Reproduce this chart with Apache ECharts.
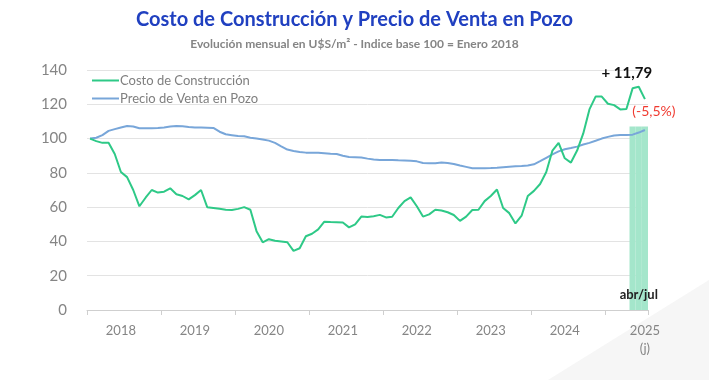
<!DOCTYPE html>
<html><head><meta charset="utf-8">
<script src="https://cdn.jsdelivr.net/npm/echarts@6/dist/echarts.min.js"></script>
<style>html,body{margin:0;padding:0;background:#fff}#c{width:709px;height:380px}</style>
</head><body><div id="c"></div>
<script>
const years = ['2018','2019','2020','2021','2022','2023','2024','2025'];
const monthsInYear = [12,12,12,12,12,12,12,7];
const yearLabels = ['2018','2019','2020','2021','2022','2023','2024','2025\n(j)'];
const costo = [
 100, 98.5, 97.5, 97.5, 91, 80.5, 77.5, 70, 60.5, 65.5, 70, 68.5,
 69, 71, 67.5, 66.5, 64.5, 67, 70, 60, 59.5, 59, 58.5, 58.3,
 59, 60, 58.5, 46, 39.5, 41.3, 40.4, 40, 39.5, 34.5, 36, 43,
 44.5, 47, 51.5, 51.3, 51.2, 51, 48.2, 50, 54.5, 54.3, 54.7, 55.5,
 54, 54.4, 59.5, 63.5, 65.7, 60.5, 54.5, 55.8, 58.5, 58, 57, 55.4,
 52, 54.5, 58.3, 58.5, 63.5, 66.5, 70.3, 59.5, 56.5, 50.5, 55, 66.5,
 69.5, 73.5, 80.5, 93, 97.5, 88.5, 86, 93, 103, 117, 124.5, 124.5,
 120.3, 119.5, 117, 117.3, 129.3, 130.2, 123
];
const precio = [
 100, 100.5, 102, 104.5, 105.5, 106.5, 107.3, 107, 106, 106, 106, 106.2,
 106.5, 107, 107.3, 107.2, 106.8, 106.5, 106.4, 106.3, 106.2, 104, 102.5, 102,
 101.5, 101.3, 100.5, 100, 99.5, 98.8, 97.5, 95.5, 93.6, 92.8, 92.2, 91.8,
 91.8, 91.8, 91.5, 91.2, 91, 90, 89.3, 89.1, 88.9, 88.3, 87.8, 87.5,
 87.5, 87.5, 87.3, 87.2, 87, 86.7, 85.7, 85.6, 85.6, 86, 85.8, 85.2,
 84.3, 83.5, 82.7, 82.7, 82.7, 82.8, 83, 83.3, 83.6, 83.8, 84, 84.3,
 85, 86.8, 88.8, 90.8, 92.5, 93.8, 94.5, 95.3, 96.5, 97.5, 98.7, 100,
 101, 101.8, 102.1, 102.1, 102.3, 103.5, 105
];
const bandMonths = ['2025-05','2025-06','2025-07'];
const bandTop = 107;
const bandLabel = 'abr/jul';
const peakNote = '+ 11,79';
const lastNote = '(-5,5%)';

const categories = [];
years.forEach((y, yi) => {
  for (let m = 1; m <= monthsInYear[yi]; m++) categories.push(y + '-' + String(m).padStart(2, '0'));
});
const bandData = categories.map(c => {
  const k = bandMonths.indexOf(c);
  if (k < 0) return null;
  if (k === 1) return {value: bandTop, label: {show: true, position: 'insideBottom', distance: 9, formatter: bandLabel, color: '#222', fontSize: 13, fontWeight: 'bold', fontFamily: 'Lato'}};
  return bandTop;
});
const nC = costo.length;

const chart = echarts.init(document.getElementById('c'), null, {renderer: 'canvas'});
chart.setOption({
  backgroundColor: '#ffffff',
  animation: false,
  title: {
    text: 'Costo de Construcción y Precio de Venta en Pozo',
    subtext: 'Evolución mensual en U$S/m² - Indice base 100 = Enero 2018',
    left: 'center', top: 5, itemGap: 8,
    textStyle: {fontFamily: 'Lato', fontSize: 20, fontWeight: 'bold', color: '#2040c0'},
    subtextStyle: {fontFamily: 'Lato', fontSize: 12, fontWeight: 'bold', color: '#858585'}
  },
  graphic: [{
    type: 'polygon', z: -10, silent: true,
    shape: {points: [[548, 380], [709, 280], [709, 380]]},
    style: {fill: '#f6f6f6'}
  }],
  legend: {
    orient: 'vertical', left: 87, top: 69, itemGap: 5, itemWidth: 27, itemHeight: 2, icon: 'rect',
    data: ['Costo de Construcción', 'Precio de Venta en Pozo'],
    textStyle: {fontFamily: 'Lato', fontSize: 13, color: '#7f7f7f', padding: [0, 0, 0, -4]}
  },
  grid: {left: 87, right: 61, top: 70, bottom: 70},
  xAxis: {
    type: 'category', data: categories, boundaryGap: true,
    axisLine: {lineStyle: {color: '#cfcfcf', width: 1}},
    axisTick: {show: true, length: 5, interval: (i) => i % 12 === 0, lineStyle: {color: '#cfcfcf'}},
    axisLabel: {
      interval: 0, margin: 12, color: '#858585', fontSize: 13, fontFamily: 'Lato', lineHeight: 18,
      formatter: (val) => {
        const y = val.slice(0, 4), m = val.slice(5);
        const yi = years.indexOf(y);
        if (yi === years.length - 1) return m === '07' ? yearLabels[yi] : '';
        return m === '06' ? yearLabels[yi] : '';
      }
    }
  },
  yAxis: {
    type: 'value', min: 0, max: 140, interval: 20,
    axisLine: {show: false}, axisTick: {show: false},
    axisLabel: {margin: 20, color: '#858585', fontSize: 15, fontFamily: 'Lato'},
    splitLine: {lineStyle: {color: '#e3e3e3', width: 1}}
  },
  series: [
    {name: 'band', type: 'bar', data: bandData, barWidth: '100%', barCategoryGap: '0%', z: 1,
     itemStyle: {color: '#a4e6cb'}, silent: true},
    {name: 'Costo de Construcción', type: 'line', data: costo, symbol: 'none', z: 3,
     lineStyle: {color: '#2ec987', width: 2}, itemStyle: {color: '#2ec987'},
     markPoint: {
       symbol: 'circle', symbolSize: 0, silent: true,
       data: [
         {coord: [categories[nC - 2], costo[nC - 2]],
          label: {show: true, position: 'top', distance: 6, offset: [-12, 0], formatter: peakNote, color: '#111', fontSize: 15, fontWeight: 'bold', fontFamily: 'Lato'}},
         {coord: [categories[nC - 1], costo[nC - 1]],
          label: {show: true, position: 'bottom', distance: 5, offset: [9, 0], formatter: lastNote, color: '#f03a30', fontSize: 14, fontFamily: 'Lato'}}
       ]
     }},
    {name: 'Precio de Venta en Pozo', type: 'line', data: precio, symbol: 'none', z: 2,
     lineStyle: {color: '#78a6d9', width: 2}, itemStyle: {color: '#78a6d9'}}
  ]
});
</script></body></html>
